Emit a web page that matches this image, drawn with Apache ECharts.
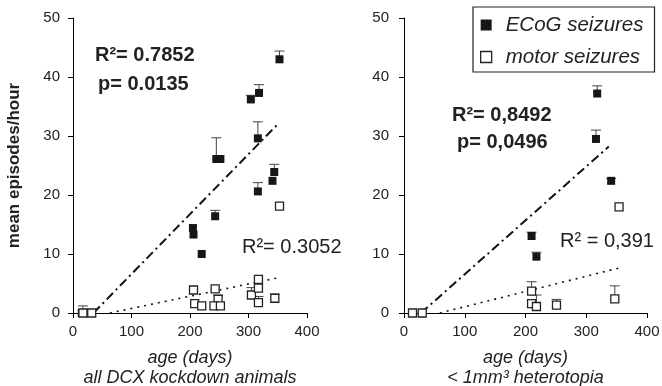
<!DOCTYPE html>
<html>
<head>
<meta charset="utf-8">
<script src="https://cdn.jsdelivr.net/npm/echarts@6/dist/echarts.min.js"></script>
<style>
  html, body { margin: 0; padding: 0; background: #fff; }
  #chart { width: 662px; height: 386px; }
</style>
</head>
<body>
<div id="chart"></div>
<script>
// left panel: all DCX knockdown animals
const leftEcogDays = [15, 30, 205, 206, 220, 243, 245, 252, 304, 318, 316, 316, 341, 344, 353];
const leftEcogVals = [0, 0, 14.4, 13.3, 10.0, 16.4, 26.1, 26.1, 36.2, 37.3, 29.6, 20.6, 22.4, 23.9, 43.0];
const leftEcogErr  = [null, null, null, null, null, 17.4, 29.7, null, 36.9, 38.7, 32.4, 22.1, null, 25.2, 44.4];
const leftMotorDays = [17, 32, 206, 208, 220, 243, 248, 241, 252, 305, 317, 317, 317, 345, 353];
const leftMotorVals = [0, 0, 3.9, 1.6, 1.2, 4.1, 2.3, 1.2, 1.2, 3.05, 5.7, 4.2, 1.75, 2.5, 18.1];
const leftMotorErr  = [1.2, null, null, null, null, null, 3.05, null, null, 4.3, null, null, 2.8, 3.2, null];
const leftEcogTrend = [[35, 0], [352, 32.2]];
const leftMotorTrend = [[63, 0], [352, 6.0]];

// right panel: < 1mm3 heterotopia
const rightEcogDays = [14, 30, 210, 218, 316, 318, 341];
const rightEcogVals = [0, 0, 13.05, 9.55, 29.5, 37.2, 22.4];
const rightEcogErr  = [null, null, 13.7, 10.3, 31.0, 38.5, 22.8];
const rightMotorDays = [14, 30, 210, 210, 218, 251, 347, 354];
const rightMotorVals = [0, 0, 3.7, 1.6, 1.1, 1.35, 2.4, 18.0];
const rightMotorErr  = [null, null, 5.3, null, 3.05, 2.3, 4.6, null];
const rightEcogTrend = [[28, 0], [337, 28.2]];
const rightMotorTrend = [[59, 0], [353, 7.6]];

const xTicks = { min: 0, max: 400, interval: 100 };
const yTicks = { min: 0, max: 50, interval: 10 };

const FONT = 'Liberation Sans, Arial, sans-serif';
const INK = '#161616';

const zip = (xs, ys) => xs.map((x, i) => [x, ys[i]]);
const errData = (xs, ys, es) => xs.map((x, i) => [x, ys[i], es[i]]).filter((d) => d[2] != null);

function errorBars(name, idx, data) {
  return {
    type: 'custom',
    name: name,
    xAxisIndex: idx,
    yAxisIndex: idx,
    z: 1,
    data: data,
    renderItem: (params, api) => {
      const p = api.coord([api.value(0), api.value(1)]);
      const t = api.coord([api.value(0), api.value(2)]);
      const style = { stroke: '#444', lineWidth: 1 };
      return {
        type: 'group',
        children: [
          { type: 'line', shape: { x1: p[0], y1: p[1], x2: t[0], y2: t[1] }, style: style },
          { type: 'line', shape: { x1: t[0] - 5, y1: t[1], x2: t[0] + 5, y2: t[1] }, style: style },
        ],
      };
    },
  };
}

function trend(idx, data, dash, width) {
  return {
    type: 'line',
    xAxisIndex: idx,
    yAxisIndex: idx,
    data: data,
    symbol: 'none',
    z: 2,
    silent: true,
    lineStyle: { color: '#111', width: width, type: dash },
  };
}

const ecogStyle = { color: INK, opacity: 1 };
const motorStyle = { color: '#fff', borderColor: '#222', borderWidth: 1.3, opacity: 1 };

function scatter(name, idx, data, style, z) {
  return {
    type: 'scatter',
    name: name,
    xAxisIndex: idx,
    yAxisIndex: idx,
    data: data,
    symbol: 'rect',
    symbolSize: 8,
    z: z,
    itemStyle: style,
  };
}

function xAxis(idx, name) {
  return {
    type: 'value',
    gridIndex: idx,
    ...xTicks,
    name: name,
    nameLocation: 'middle',
    nameGap: 35,
    nameTextStyle: { fontFamily: FONT, fontSize: 18, fontStyle: 'italic', color: '#222', lineHeight: 20 },
    axisLine: { show: true, lineStyle: { color: '#000', width: 1 } },
    axisTick: { show: true, length: 5, lineStyle: { color: '#000' } },
    axisLabel: { fontFamily: FONT, fontSize: 15, color: '#222', margin: 11 },
    splitLine: { show: false },
  };
}

function yAxis(idx, name, margin) {
  return {
    type: 'value',
    gridIndex: idx,
    ...yTicks,
    name: name,
    nameLocation: 'middle',
    nameGap: 50,
    nameTextStyle: { fontFamily: FONT, fontSize: 17, fontWeight: 'bold', color: '#222' },
    axisLine: { show: true, lineStyle: { color: '#000', width: 1 } },
    axisTick: { show: true, length: 5, lineStyle: { color: '#000' } },
    axisLabel: { fontFamily: FONT, fontSize: 15, color: '#222', margin: margin },
    splitLine: { show: false },
  };
}

function note(x, y, text, bold) {
  return {
    type: 'text',
    left: x,
    top: y,
    style: {
      text: text,
      font: (bold ? 'bold ' : '') + '20px ' + FONT,
      fill: '#222',
    },
  };
}

const chart = echarts.init(document.getElementById('chart'));

const option = {
  animation: false,
  backgroundColor: '#fff',
  grid: [
    { left: 73, right: 355, top: 18, bottom: 73, outerBoundsMode: 'none' },
    { left: 404, right: 15, top: 18, bottom: 73, outerBoundsMode: 'none' },
  ],
  xAxis: [
    xAxis(0, 'age (days)\nall DCX kockdown animals'),
    xAxis(1, 'age (days)\n< 1mm³ heterotopia'),
  ],
  yAxis: [
    yAxis(0, 'mean episodes/hour', 13),
    yAxis(1, '', 15),
  ],
  legend: {
    orient: 'vertical',
    left: 473,
    top: 7,
    padding: [8, 11, 5, 7],
    itemGap: 12,
    itemWidth: 11,
    itemHeight: 11,
    borderColor: '#222',
    borderWidth: 1.2,
    textStyle: { fontFamily: FONT, fontSize: 20.5, fontStyle: 'italic', color: '#222', padding: [0, 0, 0, 9] },
    data: [
      { name: 'ECoG seizures', icon: 'rect', itemStyle: ecogStyle },
      { name: 'motor seizures', icon: 'rect', itemStyle: motorStyle },
    ],
  },
  graphic: [
    note(95, 45, 'R²= 0.7852', true),
    note(98, 74, 'p= 0.0135', true),
    note(242, 237, 'R²= 0.3052', false),
    note(452, 105, 'R²= 0,8492', true),
    note(457, 132, 'p= 0,0496', true),
    note(560, 231, 'R² = 0,391', false),
  ],
  series: [
    errorBars('err-l-ecog', 0, errData(leftEcogDays, leftEcogVals, leftEcogErr)),
    errorBars('err-l-motor', 0, errData(leftMotorDays, leftMotorVals, leftMotorErr)),
    errorBars('err-r-ecog', 1, errData(rightEcogDays, rightEcogVals, rightEcogErr)),
    errorBars('err-r-motor', 1, errData(rightMotorDays, rightMotorVals, rightMotorErr)),
    trend(0, leftEcogTrend, [9, 4, 2, 4], 2),
    trend(0, leftMotorTrend, [2, 5], 1.6),
    trend(1, rightEcogTrend, [9, 4, 2, 4], 2),
    trend(1, rightMotorTrend, [2, 5], 1.6),
    scatter('ECoG seizures', 0, zip(leftEcogDays, leftEcogVals), ecogStyle, 3),
    scatter('motor seizures', 0, zip(leftMotorDays, leftMotorVals), motorStyle, 4),
    scatter('ECoG seizures', 1, zip(rightEcogDays, rightEcogVals), ecogStyle, 3),
    scatter('motor seizures', 1, zip(rightMotorDays, rightMotorVals), motorStyle, 4),
  ],
};

chart.setOption(option);
</script>
</body>
</html>
